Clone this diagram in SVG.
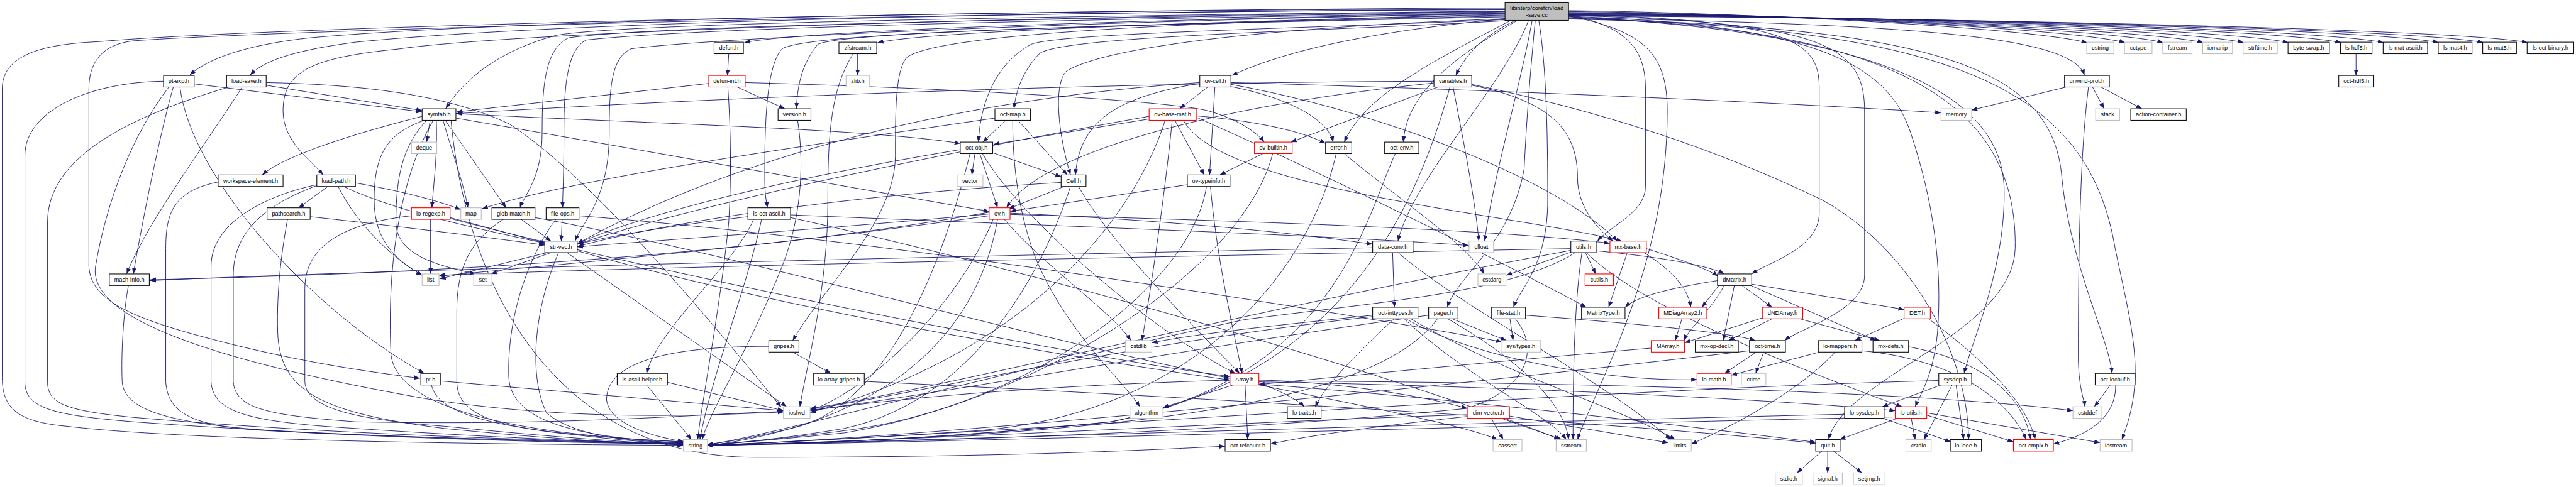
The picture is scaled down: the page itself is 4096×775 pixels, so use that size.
<svg xmlns="http://www.w3.org/2000/svg" width="4096" height="775" viewBox="0 0 4096 775">
<defs>
<marker id="ah" markerUnits="userSpaceOnUse" markerWidth="14" markerHeight="10" refX="13" refY="5" orient="auto"><path d="M0,0 L13,5 L0,10 z" fill="#191970"/></marker>
<style>
.e path{fill:none;stroke:#191970;stroke-width:1.3;marker-end:url(#ah)}
.n rect{fill:#fff;stroke:#111;stroke-width:1.6}
.g rect{stroke:#bfbfbf}
.r rect{stroke:#f00}
.root rect{fill:#bfbfbf}
.n text{font-family:"Liberation Sans",Arial,Helvetica,sans-serif;font-size:13px;text-anchor:middle;fill:#000}
</style>
</defs>
<rect width="4096" height="775" fill="#fff"/>
<g transform="scale(0.70657)">
<g id="edges" class="e">
<path d="M3530,24 C3900,28 4550,60 4697,96"/>
<path d="M3530,26 C3950,30 4650,62 4782,96"/>
<path d="M3530,28 C4000,32 4750,65 4868,96"/>
<path d="M3530,29 C4050,33 4830,66 4958,96"/>
<path d="M3530,30 C4100,34 4920,66 5049,96"/>
<path d="M3530,31 C4150,35 5020,66 5150,96"/>
<path d="M3530,32 C4200,36 5130,66 5268,96"/>
<path d="M3530,33 C4250,37 5230,66 5364,96"/>
<path d="M3530,34 C4300,38 5350,66 5488,96"/>
<path d="M3530,35 C4350,39 5450,66 5588,96"/>
<path d="M3530,36 C4400,40 5550,66 5688,96"/>
<path d="M3530,40 C4300,55 4660,80 4691,169"/>
<path d="M3530,42 C4350,60 4620,150 4640,400 C4660,600 4745,760 4753,841"/>
<path d="M3530,43 C4400,60 4700,200 4760,560 C4800,750 4830,850 4775,990"/>
<path d="M3530,41 C4300,60 4540,250 4535,560 C4530,750 4150,850 4115,990"/>
<path d="M3530,38 C4200,70 4500,200 4510,420 C4515,600 4440,760 4420,841"/>
<path d="M3530,37 C4100,55 4250,150 4300,300 C4350,450 4372,600 4360,750 C4350,850 4320,890 4310,916"/>
<path d="M3530,35 C4100,50 4196,100 4196,250 L4196,620 C4196,700 4050,740 4016,767"/>
<path d="M3530,33 C4050,45 4094,100 4094,200 L4094,480 C4094,560 3980,590 3942,617"/>
<path d="M3387,30 C2500,45 1800,70 1675,96"/>
<path d="M3387,32 C2700,50 2100,70 1975,96"/>
<path d="M3387,20 C2500,22 1200,40 700,85 C560,100 470,130 427,169"/>
<path d="M3387,22 C2500,25 1300,45 800,95 C650,115 590,140 563,169"/>
<path d="M3387,25 C2500,35 1400,50 1250,80 C1100,120 1030,200 1003,245"/>
<path d="M3387,38 C2600,55 1900,70 1840,100 C1800,150 1795,200 1792,245"/>
<path d="M3387,36 C2600,55 1820,70 1760,110 C1722,150 1721,300 1721,400 C1721,440 1725,455 1727,468"/>
<path d="M3387,27 C2500,40 1500,55 1280,85 C1225,110 1220,200 1220,300 C1220,400 1180,440 1170,468"/>
<path d="M3387,29 C2500,42 1600,60 1320,90 C1275,110 1269,200 1269,300 C1269,400 1266,440 1266,468"/>
<path d="M3387,31 C2500,45 1600,85 1420,110 C1375,130 1371,200 1371,300 C1371,450 1310,500 1294,543"/>
<path d="M3387,26 C2000,40 1100,80 900,110 C700,130 637,160 637,250 C637,320 700,360 727,394"/>
<path d="M3387,18 C2200,22 600,60 220,94 C80,100 5,130 5,200 L5,850 C5,920 40,950 150,960 C400,990 1000,1000 1538,1003"/>
<path d="M3387,21 C2000,28 600,70 300,92 C230,100 200,140 200,200 L200,600 C205,680 300,720 520,775 C700,820 850,840 945,852"/>
<path d="M3400,46 C3000,70 2400,80 2340,120 C2300,160 2285,210 2282,245"/>
<path d="M3395,44 C2900,65 2380,75 2320,100 C2230,150 2205,250 2202,320"/>
<path d="M3390,42 C2900,60 2500,100 2400,160 C2370,190 2381,300 2409,394"/>
<path d="M3387,42 C3100,70 2900,110 2772,170"/>
<path d="M3410,46 C3340,80 3300,120 3276,170"/>
<path d="M3400,46 C3200,150 3070,220 3025,320"/>
<path d="M3415,46 C3250,140 3165,220 3158,320"/>
<path d="M3440,46 C3380,200 3180,400 3146,543"/>
<path d="M3448,46 C3420,200 3360,400 3341,543"/>
<path d="M3455,46 C3440,200 3434,300 3430,380 C3400,550 3280,620 3257,692"/>
<path d="M3463,46 C3480,150 3483,300 3483,450 C3483,600 3420,650 3406,692"/>
<path d="M3530,32 C3650,60 3703,100 3703,200 L3703,420 C3703,480 3620,510 3595,543"/>
<path d="M3530,36 C3700,70 3752,120 3752,250 C3752,600 3600,850 3550,990"/>
<path d="M3387,34 C2600,50 2100,80 2040,130 C2015,160 2015,250 2015,350 C2015,500 1850,650 1784,767"/>
<path d="M368,183 C200,185 56,250 56,350 L56,860 C56,920 120,935 300,950 C700,980 1200,995 1538,1000"/>
<path d="M437,189 L950,252"/>
<path d="M390,196 C360,300 320,500 300,617"/>
<path d="M405,196 C430,400 700,700 955,841"/>
<path d="M380,196 C300,300 240,450 215,600 C200,700 400,800 970,900 C1300,950 1600,935 1763,928"/>
<path d="M599,192 L950,249"/>
<path d="M545,196 C480,300 330,500 285,617"/>
<path d="M515,196 C300,260 107,350 107,500 L107,860 C107,910 150,925 300,940 C700,975 1200,993 1538,998"/>
<path d="M599,186 C800,190 1000,210 1146,279 C1300,380 1500,600 1758,917"/>
<path d="M968,271 L960,320"/>
<path d="M982,271 C985,350 975,420 972,468"/>
<path d="M997,271 C1020,350 1045,420 1053,468"/>
<path d="M1002,271 L1139,468"/>
<path d="M950,262 C800,300 640,350 590,394"/>
<path d="M955,271 C870,300 842,350 842,450 C842,550 900,590 950,620"/>
<path d="M960,271 C905,330 891,400 891,500 C891,580 1000,600 1070,617"/>
<path d="M975,271 C900,400 870,600 880,800 C900,950 1300,985 1538,995"/>
<path d="M1026,256 C1500,280 1950,290 2161,323"/>
<path d="M1026,266 C1400,330 1900,420 2226,476"/>
<path d="M1015,271 C1050,650 1250,1030 1700,1030 C2300,1030 2650,1010 2757,1005"/>
<path d="M491,410 C390,430 373,480 373,560 L373,860 C378,930 430,960 600,970 C900,985 1300,995 1538,999"/>
<path d="M738,420 L672,468"/>
<path d="M800,412 C900,430 980,450 1037,472"/>
<path d="M773,420 C900,480 1100,520 1226,548"/>
<path d="M761,420 C800,500 880,580 950,620"/>
<path d="M713,416 C600,440 475,500 475,600 L475,860 C480,930 560,950 800,965 C1100,985 1350,995 1538,1001"/>
<path d="M713,418 C600,460 525,520 525,620 L525,860 C530,920 600,935 800,950 C1300,960 1600,930 1763,927"/>
<path d="M698,488 C900,510 1100,535 1226,552"/>
<path d="M647,494 C635,560 622,650 625,750 C630,880 720,930 1000,965 C1250,990 1400,997 1538,1002"/>
<path d="M969,494 L969,617"/>
<path d="M1013,490 L1228,548"/>
<path d="M926,486 C800,500 686,540 686,650 L686,860 C690,920 800,945 1000,960 C1250,985 1400,995 1538,1002"/>
<path d="M1013,492 C1500,620 2400,800 2768,848"/>
<path d="M1173,494 L1240,543"/>
<path d="M1133,494 C1060,540 1028,600 1028,700 L1028,860 C1030,930 1100,960 1300,980 C1400,992 1480,998 1538,1000"/>
<path d="M1204,490 C1600,560 2400,780 2768,852"/>
<path d="M1265,494 L1263,543"/>
<path d="M1251,494 C1200,560 1140,700 1145,850 C1150,950 1300,985 1538,998"/>
<path d="M1303,486 C2000,540 3000,700 3380,770"/>
<path d="M1232,569 L990,628"/>
<path d="M1240,569 L1105,617"/>
<path d="M1257,569 C1200,700 1190,850 1230,930 C1300,990 1450,995 1538,997"/>
<path d="M1276,569 L1770,916"/>
<path d="M1299,565 C1700,680 2300,790 2768,856"/>
<path d="M1683,488 C1500,510 1380,530 1300,550"/>
<path d="M1696,494 C1650,600 1480,740 1455,841"/>
<path d="M1714,494 C1680,650 1600,850 1575,990"/>
<path d="M1779,484 C2400,510 3000,530 3306,553"/>
<path d="M1779,490 C2500,650 3300,900 3510,990"/>
<path d="M1502,861 L1763,925"/>
<path d="M1455,867 L1556,990"/>
<path d="M1730,780 C1490,780 1365,820 1365,900 C1370,950 1450,980 1540,995"/>
<path d="M1784,793 L1870,841"/>
<path d="M1945,859 C2800,900 3600,950 4086,998"/>
<path d="M1930,121 L1930,170"/>
<path d="M1920,121 C1870,200 1863,300 1863,450 C1863,650 1820,800 1800,916"/>
<path d="M1640,121 L1637,170"/>
<path d="M1595,188 L1028,252"/>
<path d="M1659,196 L1766,245"/>
<path d="M1677,186 C2200,200 2650,230 2720,250 C2790,270 2830,300 2845,320"/>
<path d="M1638,196 C1645,300 1646,400 1640,500 C1620,700 1580,900 1570,990"/>
<path d="M1795,271 C1812,380 1800,500 1760,600 C1680,800 1600,920 1580,990"/>
<path d="M2263,271 L2212,320"/>
<path d="M2291,271 L2402,394"/>
<path d="M2279,271 C2279,400 2300,500 2330,580 C2400,750 2530,860 2565,916"/>
<path d="M2239,266 C1800,330 1300,400 1085,470"/>
<path d="M2194,346 L2187,394"/>
<path d="M2234,344 L2388,398"/>
<path d="M2205,346 L2245,468"/>
<path d="M2161,337 C1900,380 1500,460 1300,548"/>
<path d="M2183,346 C2120,600 2000,900 1800,960 C1700,985 1640,995 1592,1001"/>
<path d="M2211,346 C2300,500 2600,750 2780,841"/>
<path d="M2395,420 L2270,470"/>
<path d="M2388,411 C1900,440 1500,500 1300,555"/>
<path d="M2427,420 C2500,550 2700,750 2790,841"/>
<path d="M2409,420 C2350,600 2200,900 1900,965 C1750,990 1650,998 1592,1002"/>
<path d="M2718,196 L2655,245"/>
<path d="M2734,196 L2722,394"/>
<path d="M2700,188 C2500,220 2430,280 2420,394"/>
<path d="M2700,186 C2200,220 1700,330 1300,548"/>
<path d="M2770,190 C3100,250 3500,400 3640,543"/>
<path d="M2770,195 C2900,220 2990,270 3000,320"/>
<path d="M2770,186 C3300,200 4000,230 4368,254"/>
<path d="M2586,268 L2236,325"/>
<path d="M2644,271 L2710,394"/>
<path d="M2663,271 C2750,430 3400,480 3650,543"/>
<path d="M2692,264 C3000,400 3400,600 3570,692"/>
<path d="M2692,261 C2800,270 2920,290 2983,323"/>
<path d="M2586,262 C2200,330 1600,450 1299,550"/>
<path d="M2638,271 C2620,450 2590,650 2570,767"/>
<path d="M2622,271 C2550,500 2300,800 1823,929"/>
<path d="M2842,346 L2745,394"/>
<path d="M2864,346 C2800,600 2350,900 1900,975 C1750,990 1650,998 1592,1003"/>
<path d="M2672,416 L2273,476"/>
<path d="M2724,420 C2740,600 2780,760 2795,841"/>
<path d="M2715,420 C2680,650 2300,920 1900,970 C1750,990 1650,998 1592,1002"/>
<path d="M2226,478 C1600,590 800,620 338,630"/>
<path d="M2226,482 C1800,520 1500,540 1299,556"/>
<path d="M2226,486 C1700,560 1200,600 988,622"/>
<path d="M2235,494 C2150,700 1950,880 1823,925"/>
<path d="M2260,494 C2350,600 2500,700 2545,767"/>
<path d="M2245,494 C2200,750 2000,950 1592,1004"/>
<path d="M2273,480 C2700,500 2950,530 3089,550"/>
<path d="M2273,483 C2900,500 3400,520 3623,548"/>
<path d="M3236,196 L2905,320"/>
<path d="M3227,183 C2500,185 1600,220 1026,256"/>
<path d="M3227,187 C2800,230 2350,330 2265,468"/>
<path d="M3270,196 C3290,300 3320,450 3328,543"/>
<path d="M3263,196 C3180,500 3000,850 2500,950 C2100,990 1800,1000 1592,1003"/>
<path d="M3312,190 C3600,250 3850,330 4100,450 C4300,560 4430,800 4430,990"/>
<path d="M3312,192 C3500,230 3550,300 3550,400 C3550,470 3600,520 3630,543"/>
<path d="M3007,346 C2950,600 2700,930 2200,970 C1900,990 1700,998 1592,1003"/>
<path d="M3025,346 C3150,450 3300,550 3340,617"/>
<path d="M3140,346 C3070,500 3000,850 2500,950 C2100,990 1800,1000 1592,1003"/>
<path d="M3134,569 L3138,692"/>
<path d="M3089,558 C2000,580 800,610 338,632"/>
<path d="M3146,569 C3300,700 3600,850 3760,990"/>
<path d="M3535,568 L3390,620"/>
<path d="M3568,569 L3591,617"/>
<path d="M3535,560 C2500,580 1500,600 988,620"/>
<path d="M3545,569 C3400,660 3100,680 2800,720 C2200,850 1700,990 1592,1001"/>
<path d="M3535,564 C2800,700 2100,880 1823,920"/>
<path d="M3592,565 C3750,580 3850,600 3880,617"/>
<path d="M3570,569 C3700,700 4100,850 4280,916"/>
<path d="M3560,569 C3540,700 3540,900 3540,990"/>
<path d="M3662,569 L3620,692"/>
<path d="M3705,560 C3800,590 3850,610 3866,622"/>
<path d="M3700,569 C3780,620 3800,660 3805,692"/>
<path d="M3920,643 L3988,692"/>
<path d="M3942,640 L4285,697"/>
<path d="M3940,643 L4222,767"/>
<path d="M3903,643 L3878,767"/>
<path d="M3868,643 L3830,692"/>
<path d="M3880,643 C3850,700 3800,740 3790,767"/>
<path d="M3865,632 C3750,650 3680,670 3657,692"/>
<path d="M3785,718 L3770,767"/>
<path d="M3716,784 C3300,820 3000,850 2833,866"/>
<path d="M3988,718 L3890,767"/>
<path d="M4050,718 L4230,767"/>
<path d="M3966,716 L3791,772"/>
<path d="M4285,717 L4174,767"/>
<path d="M4340,718 C4450,800 4560,900 4580,990"/>
<path d="M4295,781 C4450,810 4550,880 4570,990"/>
<path d="M3969,793 L3951,841"/>
<path d="M3952,793 L3881,841"/>
<path d="M3937,790 C3000,900 2000,990 1592,1003"/>
<path d="M4095,793 L3896,845"/>
<path d="M4190,790 C4400,810 4520,900 4560,990"/>
<path d="M4130,793 C4050,880 3900,960 3806,1000"/>
<path d="M4368,867 L4236,916"/>
<path d="M4393,867 L4330,990"/>
<path d="M4402,867 L4419,990"/>
<path d="M4363,857 C3500,880 2200,980 1592,1003"/>
<path d="M4749,867 L4713,916"/>
<path d="M4761,867 C4762,940 4700,980 4621,1000"/>
<path d="M4650,196 L4437,248"/>
<path d="M4709,196 L4735,245"/>
<path d="M4728,196 L4820,245"/>
<path d="M4700,196 C4680,350 4677,600 4677,800 C4677,870 4690,900 4692,916"/>
<path d="M4237,942 L4390,995"/>
<path d="M4151,933 C3000,960 2000,995 1592,1003"/>
<path d="M4270,942 L4140,990"/>
<path d="M4301,942 L4310,990"/>
<path d="M4336,935 L4531,995"/>
<path d="M4336,930 L4726,997"/>
<path d="M4265,939 C3300,960 2200,995 1592,1003"/>
<path d="M4100,1016 L4044,1065"/>
<path d="M4113,1016 L4113,1065"/>
<path d="M4126,1016 L4190,1065"/>
<path d="M3356,942 L3383,990"/>
<path d="M3378,942 L3515,990"/>
<path d="M3397,937 L3754,997"/>
<path d="M3302,938 C3100,960 2950,980 2859,1000"/>
<path d="M3302,934 C2800,950 2000,995 1592,1003"/>
<path d="M2775,867 L2617,918"/>
<path d="M2802,867 L2808,990"/>
<path d="M2833,856 C3000,860 3200,890 3302,920"/>
<path d="M2833,862 C2880,880 2920,900 2935,916"/>
<path d="M2768,856 C2300,870 2000,900 1823,925"/>
<path d="M2833,865 C3300,900 3800,960 4086,996"/>
<path d="M2833,860 C3400,870 4000,900 4265,925"/>
<path d="M2833,867 C3100,920 3300,960 3370,990"/>
<path d="M2833,858 C3500,860 4300,880 4665,925"/>
<path d="M3137,718 C3050,800 2980,870 2960,916"/>
<path d="M3164,718 C3300,800 3600,860 3819,855"/>
<path d="M3175,718 C3400,850 3650,920 3770,990"/>
<path d="M3160,718 C3300,850 3480,930 3525,990"/>
<path d="M3089,713 C2500,780 2100,880 1823,922"/>
<path d="M3089,710 C2900,730 2700,750 2592,772"/>
<path d="M3268,718 L3390,767"/>
<path d="M3258,718 C3400,800 3520,900 3530,990"/>
<path d="M3235,718 C3100,900 2600,980 1592,1003"/>
<path d="M3215,710 C2700,780 2100,890 1823,924"/>
<path d="M3398,718 L3405,767"/>
<path d="M3433,710 C3700,730 3900,750 3950,767"/>
<path d="M3410,718 C3470,790 3430,880 3300,920 C2700,980 2000,995 1592,1003"/>
<path d="M289,643 C278,700 272,800 275,860 C280,930 400,960 700,975 C1000,990 1300,998 1538,1000"/>
<path d="M971,867 C985,930 1100,975 1538,995"/>
<path d="M991,858 L1763,925"/>
<path d="M5302,121 L5302,170"/>
</g>
<g id="n-root" class="n root"><rect x="3387" y="5" width="143" height="41"/><text x="3458.5" y="22.5">libinterp/corefcn/load</text><text x="3458.5" y="38">-save.cc</text></g>
<g id="n-defun-h" class="n"><rect x="1607" y="95" width="66" height="26"/><text x="1640" y="112.5">defun.h</text></g>
<g id="n-zfstream-h" class="n"><rect x="1888" y="95" width="85" height="26"/><text x="1930.5" y="112.5">zfstream.h</text></g>
<g id="n-cstring" class="n g"><rect x="4696" y="95" width="61" height="26"/><text x="4726.5" y="112.5">cstring</text></g>
<g id="n-cctype" class="n g"><rect x="4781" y="95" width="62" height="26"/><text x="4812" y="112.5">cctype</text></g>
<g id="n-fstream" class="n g"><rect x="4867" y="95" width="66" height="26"/><text x="4900" y="112.5">fstream</text></g>
<g id="n-iomanip" class="n g"><rect x="4957" y="95" width="67" height="26"/><text x="4990.5" y="112.5">iomanip</text></g>
<g id="n-strftime-h" class="n g"><rect x="5048" y="95" width="77" height="26"/><text x="5086.5" y="112.5">strftime.h</text></g>
<g id="n-byte-swap-h" class="n"><rect x="5149" y="95" width="93" height="26"/><text x="5195.5" y="112.5">byte-swap.h</text></g>
<g id="n-ls-hdf5-h" class="n"><rect x="5267" y="95" width="71" height="26"/><text x="5302.5" y="112.5">ls-hdf5.h</text></g>
<g id="n-ls-mat-ascii-h" class="n"><rect x="5363" y="95" width="100" height="26"/><text x="5413" y="112.5">ls-mat-ascii.h</text></g>
<g id="n-ls-mat4-h" class="n"><rect x="5487" y="95" width="76" height="26"/><text x="5525" y="112.5">ls-mat4.h</text></g>
<g id="n-ls-mat5-h" class="n"><rect x="5587" y="95" width="76" height="26"/><text x="5625" y="112.5">ls-mat5.h</text></g>
<g id="n-ls-oct-binary-h" class="n"><rect x="5687" y="95" width="105" height="26"/><text x="5739.5" y="112.5">ls-oct-binary.h</text></g>
<g id="n-pt-exp-h" class="n"><rect x="368" y="170" width="69" height="26"/><text x="402.5" y="187.5">pt-exp.h</text></g>
<g id="n-load-save-h" class="n"><rect x="510" y="170" width="89" height="26"/><text x="554.5" y="187.5">load-save.h</text></g>
<g id="n-defun-int-h" class="n r"><rect x="1595" y="170" width="82" height="26"/><text x="1636" y="187.5">defun-int.h</text></g>
<g id="n-zlib-h" class="n g"><rect x="1904" y="170" width="53" height="26"/><text x="1930.5" y="187.5">zlib.h</text></g>
<g id="n-ov-cell-h" class="n"><rect x="2700" y="170" width="70" height="26"/><text x="2735" y="187.5">ov-cell.h</text></g>
<g id="n-variables-h" class="n"><rect x="3227" y="170" width="85" height="26"/><text x="3269.5" y="187.5">variables.h</text></g>
<g id="n-unwind-prot-h" class="n"><rect x="4646" y="170" width="101" height="26"/><text x="4696.5" y="187.5">unwind-prot.h</text></g>
<g id="n-oct-hdf5-h" class="n"><rect x="5263" y="170" width="79" height="26"/><text x="5302.5" y="187.5">oct-hdf5.h</text></g>
<g id="n-symtab-h" class="n"><rect x="950" y="245" width="76" height="26"/><text x="988" y="262.5">symtab.h</text></g>
<g id="n-version-h" class="n"><rect x="1751" y="245" width="74" height="26"/><text x="1788" y="262.5">version.h</text></g>
<g id="n-oct-map-h" class="n"><rect x="2239" y="245" width="80" height="26"/><text x="2279" y="262.5">oct-map.h</text></g>
<g id="n-ov-base-mat-h" class="n r"><rect x="2586" y="245" width="106" height="26"/><text x="2639" y="262.5">ov-base-mat.h</text></g>
<g id="n-memory" class="n g"><rect x="4368" y="245" width="69" height="26"/><text x="4402.5" y="262.5">memory</text></g>
<g id="n-stack" class="n g"><rect x="4716" y="245" width="54" height="26"/><text x="4743" y="262.5">stack</text></g>
<g id="n-action-container-h" class="n"><rect x="4795" y="245" width="125" height="26"/><text x="4857.5" y="262.5">action-container.h</text></g>
<g id="n-deque" class="n g"><rect x="926" y="320" width="57" height="26"/><text x="954.5" y="337.5">deque</text></g>
<g id="n-oct-obj-h" class="n"><rect x="2161" y="320" width="73" height="26"/><text x="2197.5" y="337.5">oct-obj.h</text></g>
<g id="n-ov-builtin-h" class="n r"><rect x="2823" y="320" width="85" height="26"/><text x="2865.5" y="337.5">ov-builtin.h</text></g>
<g id="n-error-h" class="n"><rect x="2983" y="320" width="59" height="26"/><text x="3012.5" y="337.5">error.h</text></g>
<g id="n-oct-env-h" class="n"><rect x="3116" y="320" width="77" height="26"/><text x="3154.5" y="337.5">oct-env.h</text></g>
<g id="n-workspace-element-h" class="n"><rect x="491" y="394" width="146" height="26"/><text x="564" y="411.5">workspace-element.h</text></g>
<g id="n-load-path-h" class="n"><rect x="713" y="394" width="87" height="26"/><text x="756.5" y="411.5">load-path.h</text></g>
<g id="n-vector" class="n g"><rect x="2154" y="394" width="58" height="26"/><text x="2183" y="411.5">vector</text></g>
<g id="n-Cell-h" class="n"><rect x="2388" y="394" width="56" height="26"/><text x="2416" y="411.5">Cell.h</text></g>
<g id="n-ov-typeinfo-h" class="n"><rect x="2672" y="394" width="96" height="26"/><text x="2720" y="411.5">ov-typeinfo.h</text></g>
<g id="n-pathsearch-h" class="n"><rect x="601" y="468" width="97" height="26"/><text x="649.5" y="485.5">pathsearch.h</text></g>
<g id="n-lo-regexp-h" class="n r"><rect x="926" y="468" width="87" height="26"/><text x="969.5" y="485.5">lo-regexp.h</text></g>
<g id="n-map" class="n g"><rect x="1037" y="468" width="46" height="26"/><text x="1060" y="485.5">map</text></g>
<g id="n-glob-match-h" class="n"><rect x="1107" y="468" width="97" height="26"/><text x="1155.5" y="485.5">glob-match.h</text></g>
<g id="n-file-ops-h" class="n"><rect x="1229" y="468" width="74" height="26"/><text x="1266" y="485.5">file-ops.h</text></g>
<g id="n-ls-oct-ascii-h" class="n"><rect x="1683" y="468" width="96" height="26"/><text x="1731" y="485.5">ls-oct-ascii.h</text></g>
<g id="n-ov-h" class="n r"><rect x="2226" y="468" width="47" height="26"/><text x="2249.5" y="485.5">ov.h</text></g>
<g id="n-str-vec-h" class="n"><rect x="1226" y="543" width="73" height="26"/><text x="1262.5" y="560.5">str-vec.h</text></g>
<g id="n-data-conv-h" class="n"><rect x="3089" y="543" width="91" height="26"/><text x="3134.5" y="560.5">data-conv.h</text></g>
<g id="n-cfloat" class="n g"><rect x="3306" y="543" width="55" height="26"/><text x="3333.5" y="560.5">cfloat</text></g>
<g id="n-utils-h" class="n"><rect x="3535" y="543" width="57" height="26"/><text x="3563.5" y="560.5">utils.h</text></g>
<g id="n-mx-base-h" class="n r"><rect x="3623" y="543" width="82" height="26"/><text x="3664" y="560.5">mx-base.h</text></g>
<g id="n-mach-info-h" class="n"><rect x="246" y="617" width="90" height="26"/><text x="291" y="634.5">mach-info.h</text></g>
<g id="n-list" class="n g"><rect x="950" y="617" width="38" height="26"/><text x="969" y="634.5">list</text></g>
<g id="n-set" class="n g"><rect x="1066" y="617" width="41" height="26"/><text x="1086.5" y="634.5">set</text></g>
<g id="n-cstdarg" class="n g"><rect x="3326" y="617" width="63" height="26"/><text x="3357.5" y="634.5">cstdarg</text></g>
<g id="n-cutils-h" class="n r"><rect x="3567" y="617" width="64" height="26"/><text x="3599" y="634.5">cutils.h</text></g>
<g id="n-dMatrix-h" class="n"><rect x="3865" y="617" width="77" height="26"/><text x="3903.5" y="634.5">dMatrix.h</text></g>
<g id="n-oct-inttypes-h" class="n"><rect x="3089" y="692" width="102" height="26"/><text x="3140" y="709.5">oct-inttypes.h</text></g>
<g id="n-pager-h" class="n"><rect x="3215" y="692" width="66" height="26"/><text x="3248" y="709.5">pager.h</text></g>
<g id="n-file-stat-h" class="n"><rect x="3356" y="692" width="77" height="26"/><text x="3394.5" y="709.5">file-stat.h</text></g>
<g id="n-MatrixType-h" class="n"><rect x="3559" y="692" width="98" height="26"/><text x="3608" y="709.5">MatrixType.h</text></g>
<g id="n-MDiagArray2-h" class="n r"><rect x="3733" y="692" width="108" height="26"/><text x="3787" y="709.5">MDiagArray2.h</text></g>
<g id="n-dNDArray-h" class="n r"><rect x="3966" y="692" width="91" height="26"/><text x="4011.5" y="709.5">dNDArray.h</text></g>
<g id="n-DET-h" class="n r"><rect x="4285" y="692" width="59" height="26"/><text x="4314.5" y="709.5">DET.h</text></g>
<g id="n-gripes-h" class="n"><rect x="1730" y="767" width="68" height="26"/><text x="1764" y="784.5">gripes.h</text></g>
<g id="n-cstdlib" class="n g"><rect x="2533" y="767" width="59" height="26"/><text x="2562.5" y="784.5">cstdlib</text></g>
<g id="n-sys-types-h" class="n g"><rect x="3378" y="767" width="89" height="26"/><text x="3422.5" y="784.5">sys/types.h</text></g>
<g id="n-MArray-h" class="n r"><rect x="3716" y="767" width="75" height="26"/><text x="3753.5" y="784.5">MArray.h</text></g>
<g id="n-mx-op-decl-h" class="n"><rect x="3815" y="767" width="97" height="26"/><text x="3863.5" y="784.5">mx-op-decl.h</text></g>
<g id="n-oct-time-h" class="n"><rect x="3937" y="767" width="81" height="26"/><text x="3977.5" y="784.5">oct-time.h</text></g>
<g id="n-lo-mappers-h" class="n"><rect x="4092" y="767" width="98" height="26"/><text x="4141" y="784.5">lo-mappers.h</text></g>
<g id="n-mx-defs-h" class="n"><rect x="4215" y="767" width="80" height="26"/><text x="4255" y="784.5">mx-defs.h</text></g>
<g id="n-pt-h" class="n"><rect x="947" y="841" width="44" height="26"/><text x="969" y="858.5">pt.h</text></g>
<g id="n-ls-ascii-helper-h" class="n"><rect x="1389" y="841" width="113" height="26"/><text x="1445.5" y="858.5">ls-ascii-helper.h</text></g>
<g id="n-lo-array-gripes-h" class="n"><rect x="1831" y="841" width="114" height="26"/><text x="1888" y="858.5">lo-array-gripes.h</text></g>
<g id="n-Array-h" class="n r"><rect x="2768" y="841" width="65" height="26"/><text x="2800.5" y="858.5">Array.h</text></g>
<g id="n-lo-math-h" class="n r"><rect x="3819" y="841" width="77" height="26"/><text x="3857.5" y="858.5">lo-math.h</text></g>
<g id="n-ctime" class="n g"><rect x="3919" y="841" width="55" height="26"/><text x="3946.5" y="858.5">ctime</text></g>
<g id="n-sysdep-h" class="n"><rect x="4363" y="841" width="74" height="26"/><text x="4400" y="858.5">sysdep.h</text></g>
<g id="n-oct-locbuf-h" class="n"><rect x="4715" y="841" width="90" height="26"/><text x="4760" y="858.5">oct-locbuf.h</text></g>
<g id="n-iosfwd" class="n g"><rect x="1763" y="916" width="60" height="26"/><text x="1793" y="933.5">iosfwd</text></g>
<g id="n-algorithm" class="n g"><rect x="2543" y="916" width="74" height="26"/><text x="2580" y="933.5">algorithm</text></g>
<g id="n-lo-traits-h" class="n"><rect x="2897" y="916" width="76" height="26"/><text x="2935" y="933.5">lo-traits.h</text></g>
<g id="n-dim-vector-h" class="n r"><rect x="3302" y="916" width="95" height="26"/><text x="3349.5" y="933.5">dim-vector.h</text></g>
<g id="n-lo-sysdep-h" class="n"><rect x="4151" y="916" width="89" height="26"/><text x="4195.5" y="933.5">lo-sysdep.h</text></g>
<g id="n-lo-utils-h" class="n r"><rect x="4265" y="916" width="71" height="26"/><text x="4300.5" y="933.5">lo-utils.h</text></g>
<g id="n-cstddef" class="n g"><rect x="4665" y="916" width="65" height="26"/><text x="4697.5" y="933.5">cstddef</text></g>
<g id="n-string" class="n g"><rect x="1538" y="990" width="54" height="26"/><text x="1565" y="1007.5">string</text></g>
<g id="n-oct-refcount-h" class="n"><rect x="2757" y="990" width="102" height="26"/><text x="2808" y="1007.5">oct-refcount.h</text></g>
<g id="n-cassert" class="n g"><rect x="3360" y="990" width="65" height="26"/><text x="3392.5" y="1007.5">cassert</text></g>
<g id="n-sstream" class="n g"><rect x="3502" y="990" width="68" height="26"/><text x="3536" y="1007.5">sstream</text></g>
<g id="n-limits" class="n g"><rect x="3754" y="990" width="52" height="26"/><text x="3780" y="1007.5">limits</text></g>
<g id="n-quit-h" class="n"><rect x="4086" y="990" width="55" height="26"/><text x="4113.5" y="1007.5">quit.h</text></g>
<g id="n-cstdio" class="n g"><rect x="4289" y="990" width="57" height="26"/><text x="4317.5" y="1007.5">cstdio</text></g>
<g id="n-lo-ieee-h" class="n"><rect x="4389" y="990" width="70" height="26"/><text x="4424" y="1007.5">lo-ieee.h</text></g>
<g id="n-oct-cmplx-h" class="n r"><rect x="4531" y="990" width="90" height="26"/><text x="4576" y="1007.5">oct-cmplx.h</text></g>
<g id="n-iostream" class="n g"><rect x="4726" y="990" width="72" height="26"/><text x="4762" y="1007.5">iostream</text></g>
<g id="n-stdio-h" class="n g"><rect x="3995" y="1065" width="61" height="26"/><text x="4025.5" y="1082.5">stdio.h</text></g>
<g id="n-signal-h" class="n g"><rect x="4080" y="1065" width="66" height="26"/><text x="4113" y="1082.5">signal.h</text></g>
<g id="n-setjmp-h" class="n g"><rect x="4171" y="1065" width="71" height="26"/><text x="4206.5" y="1082.5">setjmp.h</text></g>
</g>
</svg>
